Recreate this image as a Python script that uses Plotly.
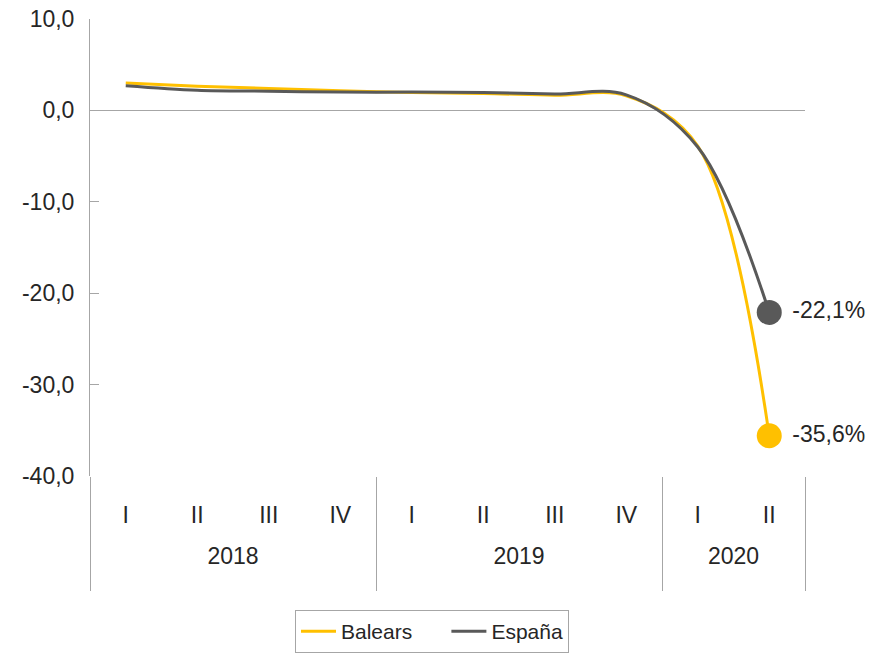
import plotly.graph_objects as go

years = ["2018"] * 4 + ["2019"] * 4 + ["2020"] * 2
quarters = ["I", "II", "III", "IV", "I", "II", "III", "IV", "I", "II"]
balears = [3.0, 2.65, 2.4, 2.15, 1.95, 1.85, 1.65, 1.6, -3.9, -35.6]
espana = [2.7, 2.2, 2.1, 2.0, 2.0, 1.95, 1.8, 1.7, -4.0, -22.1]
y_ticks = [10, 0, -10, -20, -30, -40]

YELLOW = "#FFC000"
GREY = "#595959"
AXIS = "#A6A6A6"
TEXT = "#262626"
FONT = "Liberation Sans, Arial, sans-serif"


def fmt(v):
    return f"{v:.1f}".replace(".", ",")


cats = [f"{q} {y}" for q, y in zip(quarters, years)]
n = len(cats)
year_names = list(dict.fromkeys(years))
year_idx = {y: [i for i, yy in enumerate(years) if yy == y] for y in year_names}
year_centers = [sum(v) / len(v) for v in year_idx.values()]
bounds = [year_idx[y][0] - 0.5 for y in year_names] + [n - 0.5]

fig = go.Figure()
fig.add_trace(go.Scatter(x=cats, y=balears, mode="lines", name="Balears" + "\u00a0" * 5,
                         line=dict(color=YELLOW, width=3, shape="spline")))
fig.add_trace(go.Scatter(x=cats, y=espana, mode="lines", name="España",
                         line=dict(color=GREY, width=3, shape="spline")))
fig.add_trace(go.Scatter(x=cats[-1:], y=balears[-1:], mode="markers+text",
                         marker=dict(color=YELLOW, size=25), text=[" " + fmt(balears[-1]) + "%"],
                         textposition="middle right", showlegend=False, cliponaxis=False,
                         textfont=dict(size=23, color=TEXT, family=FONT)))
fig.add_trace(go.Scatter(x=cats[-1:], y=espana[-1:], mode="markers+text",
                         marker=dict(color=GREY, size=25), text=[" " + fmt(espana[-1]) + "%"],
                         textposition="middle right", showlegend=False, cliponaxis=False,
                         textfont=dict(size=23, color=TEXT, family=FONT)))
# invisible helper traces so the year-label axis and the divider axis are rendered
fig.add_trace(go.Scatter(x=year_centers, y=[None] * len(year_centers), xaxis="x2",
                         mode="lines", showlegend=False, hoverinfo="skip"))
fig.add_trace(go.Scatter(x=bounds, y=[None] * len(bounds), xaxis="x3",
                         mode="lines", showlegend=False, hoverinfo="skip"))

fig.update_layout(
    width=888, height=661,
    margin=dict(l=90, r=83, t=19, b=185),
    paper_bgcolor="white", plot_bgcolor="white",
    font=dict(family=FONT, size=23, color=TEXT),
    showlegend=True,
    legend=dict(orientation="h", xref="container", x=295 / 888, xanchor="left",
                yref="container", y=1 - 610 / 661, yanchor="top",
                bordercolor=AXIS, borderwidth=1, font=dict(size=21, color=TEXT),
                itemwidth=35),
    yaxis=dict(range=[-40, 10], tickvals=y_ticks, ticktext=[fmt(v) for v in y_ticks],
               showgrid=False, showline=True, linecolor=AXIS, linewidth=1,
               ticks="inside", ticklen=9, tickcolor=AXIS,
               zeroline=True, zerolinecolor=AXIS, zerolinewidth=1,
               ticklabelstandoff=10, tickfont=dict(size=23, color=TEXT), automargin=False),
    xaxis=dict(type="category", range=[-0.5, n - 0.5], tickvals=cats, ticktext=quarters,
               showgrid=False, showline=False, zeroline=False, ticks="",
               tickfont=dict(size=23, color=TEXT), ticklabelstandoff=23, automargin=False),
    xaxis2=dict(overlaying="x", anchor="y", side="bottom", range=[-0.5, n - 0.5],
                tickvals=year_centers, ticktext=year_names, showgrid=False, showline=False,
                zeroline=False, ticks="", tickfont=dict(size=23, color=TEXT),
                ticklabelstandoff=64, automargin=False),
    xaxis3=dict(overlaying="x", anchor="y", side="bottom", range=[-0.5, n - 0.5],
                tickvals=bounds, showticklabels=False, showgrid=False, showline=False,
                zeroline=False, ticks="outside", ticklen=114, tickcolor=AXIS, tickwidth=1,
                automargin=False),
)

fig.write_html("out.html")
